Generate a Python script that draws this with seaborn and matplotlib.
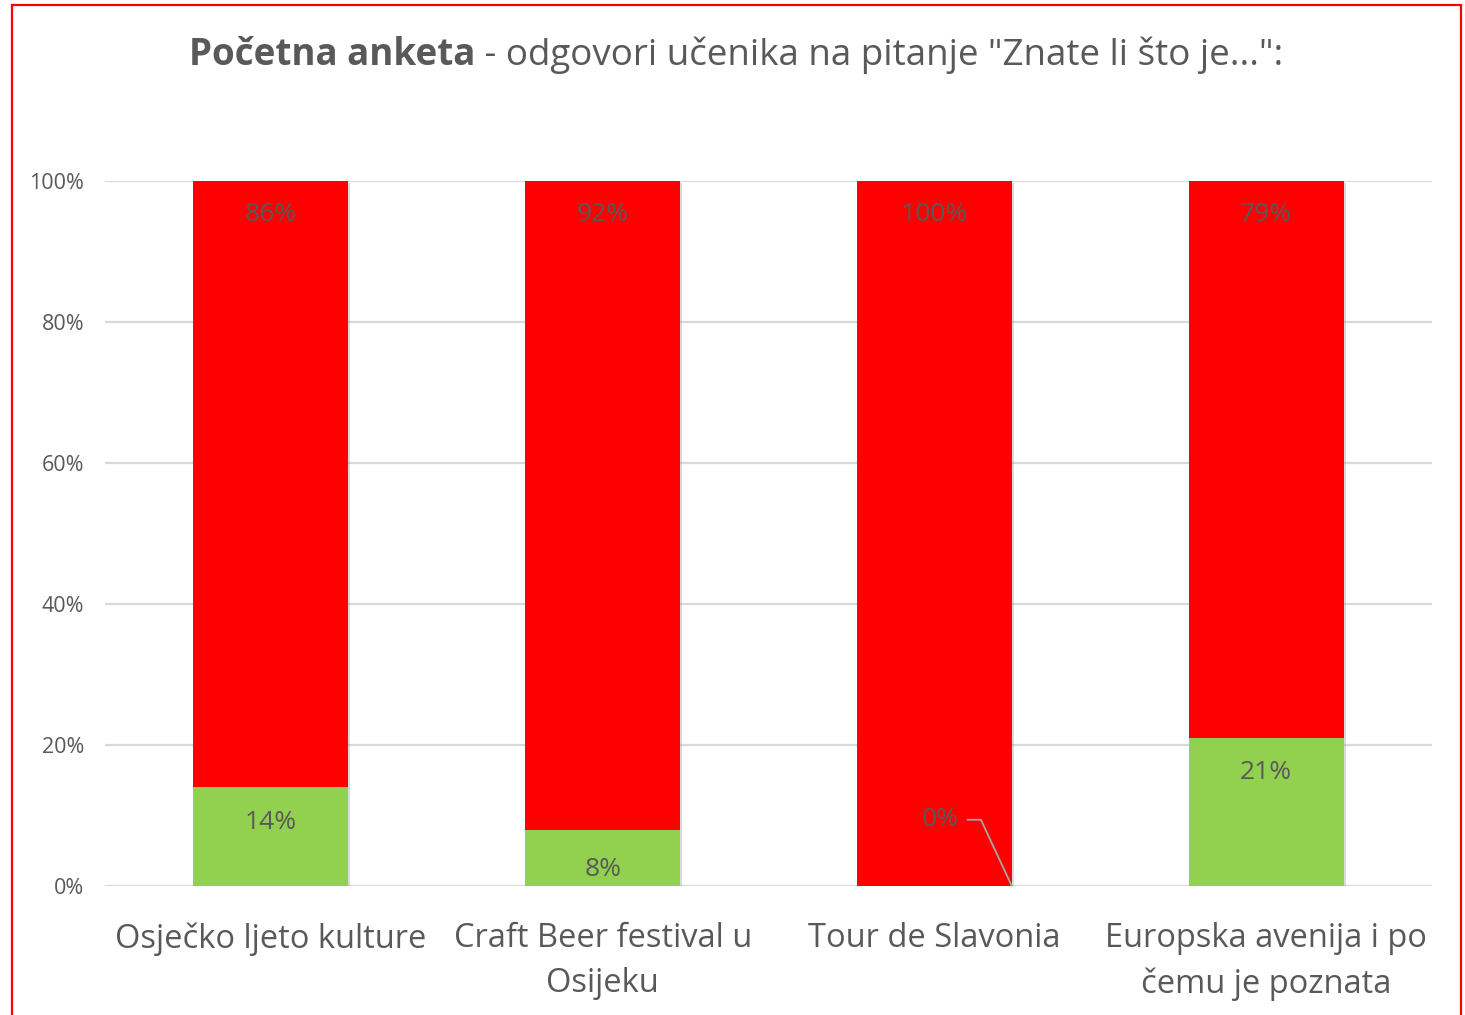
import matplotlib
matplotlib.use("Agg")
import matplotlib.pyplot as plt
import matplotlib.patches as mpatches
import matplotlib.patheffects as pe
import seaborn as sns
import pandas as pd

categories = ["Osječko ljeto kulture", "Craft Beer festival u\nOsijeku",
              "Tour de Slavonia", "Europska avenija i po\nčemu je poznata"]
da_values = [14, 8, 0, 21]      # green (yes)
ne_values = [86, 92, 100, 79]   # red (no)
yticks = [0, 20, 40, 60, 80, 100]
title_bold = "Početna anketa"
title_rest = " - odgovori učenika na pitanje \"Znate li što je...\":"

sns.set_theme(style="white")
plt.rcParams["font.family"] = ["Open Sans", "DejaVu Sans"]

TXT = "#595959"
RED = "#FF0000"
GREEN = "#92D050"
GRID = "#D9D9D9"

W, H = 1465, 1015
fig = plt.figure(figsize=(W / 100, H / 100), dpi=100)
ax = fig.add_axes([105 / W, 1 - 886 / H, (1432 - 105) / W, (886 - 181) / H])

df = pd.DataFrame({"cat": categories, "da": da_values, "ne": ne_values})
df["total"] = df["da"] + df["ne"]

bw = 155 / 332
shadow = [pe.SimplePatchShadow(offset=(1.5, -1.5), shadow_rgbFace="#888888", alpha=0.3), pe.Normal()]

sns.barplot(data=df, x="cat", y="total", color=RED, saturation=1, width=bw,
            ax=ax, zorder=3, linewidth=0)
n = len(categories)
for p in ax.patches[:n]:
    p.set_path_effects(shadow)
sns.barplot(data=df, x="cat", y="da", color=GREEN, saturation=1, width=bw,
            ax=ax, zorder=4, linewidth=0)

ax.set_ylim(0, 100)
ax.set_xlim(-0.5, n - 0.5)
ax.set_yticks(yticks)
ax.set_yticklabels([f"{v}%" for v in yticks], fontsize=15.5, color=TXT)
ax.tick_params(axis="y", length=0, pad=15)
ax.tick_params(axis="x", length=0, pad=26)
ax.set_xticks(range(n))
ax.set_xticklabels(categories, fontsize=23.5, color=TXT, linespacing=1.47)
ax.set_xlabel("")
ax.set_ylabel("")
ax.yaxis.grid(True, color=GRID, linewidth=1.6, zorder=0)
ax.set_axisbelow(True)
for s in ax.spines.values():
    s.set_visible(False)

LBL = 19
# data labels
for i, (d, nv) in enumerate(zip(da_values, ne_values)):
    ax.annotate(f"{nv}%", xy=(i, 100), xytext=(0, -24), textcoords="offset points",
                ha="center", va="center", fontsize=LBL, color=TXT, zorder=6)
    if d == 0:
        ax.annotate(f"{d}%", xy=(i + bw / 2, 0), xytext=(i + 0.017, 9.4),
                    textcoords="data", ha="center", va="center", fontsize=LBL,
                    color=TXT, zorder=6,
                    arrowprops=dict(arrowstyle="-", color="#A6A6A6", lw=1.3,
                                    shrinkA=4, shrinkB=0,
                                    connectionstyle="angle,angleA=0,angleB=115,rad=0"))
    elif d < 10:
        ax.annotate(f"{d}%", xy=(i, 0), xytext=(0, 12), textcoords="offset points",
                    ha="center", va="center", fontsize=LBL, color=TXT, zorder=6)
    else:
        ax.annotate(f"{d}%", xy=(i, d), xytext=(0, -25), textcoords="offset points",
                    ha="center", va="center", fontsize=LBL, color=TXT, zorder=6)

# title with bold and regular parts, centered
fig.canvas.draw()
r = fig.canvas.get_renderer()
ty = 1 - 55 / H
t1 = fig.text(0, ty, title_bold, fontsize=26.5, fontweight="bold", color=TXT, va="center", ha="left")
t2 = fig.text(0, ty, title_rest, fontsize=26.5, color=TXT, va="center", ha="left")
w1 = t1.get_window_extent(r).width
w2 = t2.get_window_extent(r).width
cx = 736
x0 = cx - (w1 + w2) / 2
t1.set_x(x0 / W)
t2.set_x((x0 + w1) / W)

# red frame
fig.patches.append(mpatches.Rectangle((12 / W, -0.05), (1461 - 12) / W, 1.05 - 5 / H,
                                      transform=fig.transFigure, fill=False,
                                      edgecolor=RED, linewidth=1.6))

fig.savefig("out.png", dpi=100)
